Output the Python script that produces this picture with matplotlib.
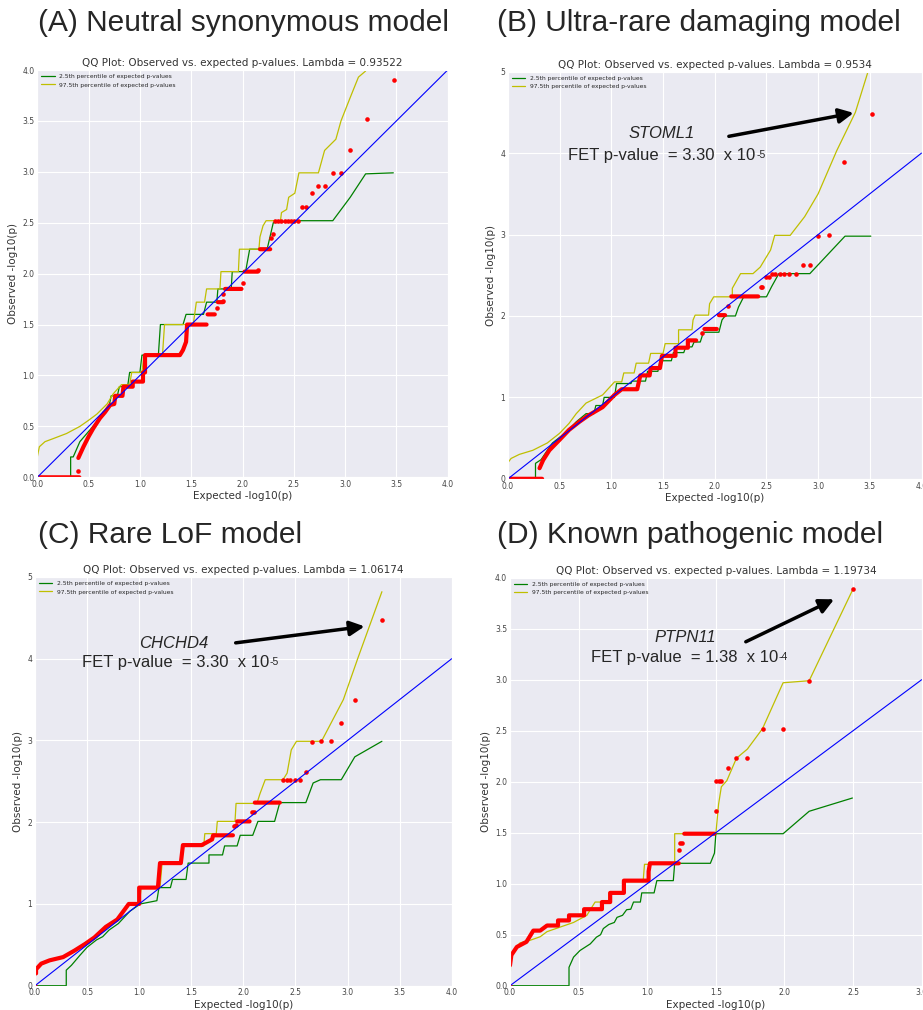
import numpy as np
import matplotlib.pyplot as plt
import seaborn as sns

sns.set_style("darkgrid")
plt.rcParams['font.family'] = ['DejaVu Sans']

W, H = 923, 1010
nan = np.nan

# ---------------- (A) Neutral synonymous model ----------------
a_lambda = "0.93522"
a_green_x = [0, 0.325, 0.325, 0.35, 0.415, 0.50, 0.58, 0.64, 0.70, 0.72, 0.78, 0.80, 0.88, 0.90, 1.00, 1.02,
             1.18, 1.20, 1.42, 1.45, 1.62, 1.65, 1.75, 1.76, 1.89, 1.90, 2.03, 2.07, 2.24, 2.30, 2.52, 2.58,
             2.62, 2.88, 3.05, 3.20, 3.47]
a_green_y = [0, 0, 0.20, 0.20, 0.35, 0.45, 0.545, 0.64, 0.70, 0.80, 0.80, 0.89, 0.89, 1.03, 1.03, 1.20,
             1.20, 1.50, 1.50, 1.60, 1.60, 1.72, 1.72, 1.85, 1.85, 2.02, 2.02, 2.24, 2.24, 2.50, 2.52,
             2.52, 2.52, 2.52, 2.75, 2.98, 2.99]
a_yellow_x = [0, 0, 0.02, 0.075, 0.155, 0.285, 0.415, 0.50, 0.58, 0.68, 0.74, 0.82, 0.90, 0.92, 1.02, 1.04,
              1.22, 1.24, 1.52, 1.55, 1.63, 1.65, 1.78, 1.79, 1.96, 1.97, 2.16, 2.17, 2.20, 2.23, 2.37, 2.38,
              2.43, 2.45, 2.51, 2.55, 2.74, 2.80, 2.91, 2.96, 3.05, 3.13, 3.20]
a_yellow_y = [0, 0.20, 0.30, 0.35, 0.38, 0.43, 0.50, 0.56, 0.62, 0.72, 0.82, 0.91, 0.91, 1.03, 1.03, 1.20,
              1.20, 1.50, 1.50, 1.72, 1.72, 1.85, 1.85, 2.02, 2.02, 2.24, 2.24, 2.36, 2.47, 2.52, 2.52, 2.60,
              2.63, 2.75, 2.79, 2.99, 2.99, 3.21, 3.32, 3.50, 3.73, 3.93, 3.99]
a_red_x = [0, 0.41, nan,
           0.40, 0.45, 0.50, 0.545, 0.61, 0.66, 0.71, 0.75, 0.76, 0.83, 0.84, 0.93, 0.93, 1.03, 1.03, 1.05,
           1.05, 1.39, 1.42, 1.45, 1.46, 1.65, nan, 1.66, 1.73, nan, 1.76, 1.81, nan, 1.83, 1.99, nan,
           2.02, 2.15, nan, 2.17, 2.27]
a_red_y = [0, 0, nan,
           0.19, 0.30, 0.40, 0.48, 0.58, 0.64, 0.71, 0.72, 0.80, 0.80, 0.89, 0.89, 0.94, 0.94, 1.03, 1.03,
           1.20, 1.20, 1.25, 1.33, 1.50, 1.50, nan, 1.60, 1.60, nan, 1.72, 1.72, nan, 1.85, 1.85, nan,
           2.02, 2.02, nan, 2.24, 2.24]
a_dot_x = [0.40, 1.75, 1.81, 1.81, 2.00, 2.155, 2.28, 2.30, 2.32, 2.35, 2.38, 2.41, 2.44, 2.47, 2.50, 2.54,
           2.58, 2.62, 2.68, 2.74, 2.80, 2.88, 2.96, 3.05, 3.21, 3.48]
a_dot_y = [0.065, 1.66, 1.73, 1.80, 1.91, 2.04, 2.35, 2.39, 2.52, 2.52, 2.52, 2.52, 2.52, 2.52, 2.52, 2.52,
           2.65, 2.65, 2.79, 2.86, 2.86, 2.99, 2.99, 3.21, 3.52, 3.90]

# ---------------- (B) Ultra-rare damaging model ----------------
b_lambda = "0.9534"
b_green_x = [0, 0.266, 0.266, 0.32, 0.37, 0.43, 0.53, 0.60, 0.66, 0.755, 0.83, 0.85, 0.915, 0.93, 1.03, 1.05,
             1.19, 1.20, 1.33, 1.35, 1.45, 1.47, 1.58, 1.60, 1.70, 1.72, 1.78, 1.80, 1.86, 1.89, 2.04, 2.07,
             2.10, 2.20, 2.23, 2.28, 2.50, 2.55, 2.62, 2.92, 3.26, 3.51]
b_green_y = [0, 0, 0.19, 0.235, 0.33, 0.44, 0.54, 0.62, 0.70, 0.80, 0.80, 0.90, 0.90, 1.00, 1.00, 1.17,
             1.17, 1.20, 1.20, 1.32, 1.32, 1.45, 1.45, 1.55, 1.55, 1.62, 1.62, 1.68, 1.68, 1.80, 1.80, 1.95,
             2.00, 2.00, 2.11, 2.235, 2.235, 2.36, 2.52, 2.52, 2.98, 2.98]
b_yellow_x = [0, 0, 0.03, 0.11, 0.24, 0.38, 0.50, 0.59, 0.66, 0.755, 0.915, 1.03, 1.10, 1.12, 1.22, 1.24,
              1.36, 1.38, 1.50, 1.52, 1.65, 1.65, 1.78, 1.79, 1.81, 1.94, 1.95, 1.99, 2.17, 2.17, 2.25, 2.37,
              2.44, 2.54, 2.58, 2.73, 2.87, 3.00, 3.18, 3.36, 3.48]
b_yellow_y = [0, 0.20, 0.25, 0.30, 0.35, 0.44, 0.56, 0.68, 0.80, 0.93, 1.03, 1.19, 1.19, 1.30, 1.30, 1.42,
              1.42, 1.54, 1.54, 1.66, 1.66, 1.83, 1.83, 1.95, 2.01, 2.01, 2.15, 2.235, 2.235, 2.34, 2.52, 2.52,
              2.60, 2.81, 2.99, 2.99, 3.22, 3.50, 4.03, 4.50, 4.99]
b_red_x = [0, 0.33, nan,
           0.305, 0.34, 0.40, 0.50, 0.59, 0.69, 0.78, 0.915, 1.03, 1.10, 1.25, 1.28, 1.37, 1.38, 1.47,
           1.49, 1.62, 1.62, 1.74, 1.74, 1.82, nan, 1.90, 2.02, nan, 2.04, 2.10, nan, 2.16, 2.42]
b_red_y = [0, 0, nan,
           0.13, 0.23, 0.35, 0.48, 0.60, 0.70, 0.78, 0.88, 1.03, 1.10, 1.10, 1.27, 1.27, 1.36, 1.36,
           1.51, 1.51, 1.61, 1.61, 1.70, 1.70, nan, 1.84, 1.84, nan, 2.01, 2.01, nan, 2.24, 2.24]
b_dot_x = [1.88, 2.13, 2.45, 2.46, 2.50, 2.52, 2.55, 2.58, 2.63, 2.67, 2.72, 2.79, 2.85, 2.92, 3.00, 3.11,
           3.25, 3.52]
b_dot_y = [1.79, 2.12, 2.35, 2.35, 2.48, 2.48, 2.52, 2.52, 2.52, 2.52, 2.52, 2.52, 2.62, 2.62, 2.98, 2.99,
           3.89, 4.48]

# ---------------- (C) Rare LoF model ----------------
c_lambda = "1.06174"
c_green_x = [0, 0.30, 0.30, 0.35, 0.43, 0.50, 0.59, 0.65, 0.71, 0.80, 0.91, 1.01, 1.17, 1.19, 1.30, 1.32,
             1.45, 1.47, 1.58, 1.67, 1.67, 1.70, 1.80, 1.82, 1.94, 1.97, 2.09, 2.14, 2.30, 2.35, 2.60, 2.67,
             2.74, 2.94, 3.07, 3.33]
c_green_y = [0, 0, 0.19, 0.25, 0.37, 0.47, 0.56, 0.60, 0.68, 0.76, 0.91, 1.00, 1.04, 1.20, 1.20, 1.30,
             1.30, 1.50, 1.50, 1.50, 1.60, 1.60, 1.60, 1.71, 1.71, 1.84, 1.84, 2.01, 2.01, 2.24, 2.24, 2.48,
             2.52, 2.52, 2.80, 2.99]
c_yellow_x = [0, 0, 0.03, 0.11, 0.22, 0.34, 0.46, 0.59, 0.72, 0.81, 0.90, 1.00, 1.02, 1.20, 1.22, 1.40,
              1.42, 1.62, 1.63, 1.64, 1.74, 1.75, 1.76, 1.92, 1.93, 1.96, 2.13, 2.16, 2.21, 2.38, 2.42, 2.46,
              2.51, 2.75, 2.96, 3.10, 3.33]
c_yellow_y = [0, 0.20, 0.25, 0.29, 0.33, 0.39, 0.49, 0.59, 0.74, 0.84, 1.00, 1.00, 1.20, 1.20, 1.50, 1.50,
              1.71, 1.71, 1.86, 1.86, 1.86, 2.01, 2.01, 2.01, 2.23, 2.23, 2.23, 2.35, 2.52, 2.52, 2.60, 2.885,
              2.99, 2.99, 3.50, 4.01, 4.82]
c_red_x = [0.01, 0.01, 0.06, 0.14, 0.27, 0.38, 0.48, 0.57, 0.68, 0.79, 0.90, 1.00, 1.00, 1.18, 1.20, 1.40,
           1.42, 1.58, 1.60, 1.70, 1.71, 1.90, nan, 1.94, 2.06, nan, 2.11, 2.35]
c_red_y = [0.15, 0.20, 0.27, 0.31, 0.35, 0.43, 0.51, 0.59, 0.72, 0.81, 1.00, 1.00, 1.20, 1.20, 1.50, 1.50,
           1.72, 1.72, 1.72, 1.79, 1.84, 1.84, nan, 2.01, 2.01, nan, 2.24, 2.24]
c_dot_x = [0.0, 1.91, 1.93, 2.08, 2.10, 2.38, 2.42, 2.45, 2.50, 2.54, 2.60, 2.66, 2.75, 2.84, 2.94, 3.07,
           3.33]
c_dot_y = [0.0, 1.95, 1.97, 2.13, 2.13, 2.52, 2.52, 2.52, 2.52, 2.52, 2.62, 2.98, 2.99, 2.99, 3.21, 3.50,
           4.48]

# ---------------- (D) Known pathogenic model ----------------
d_lambda = "1.19734"
d_green_x = [0, 0.43, 0.43, 0.463, 0.51, 0.585, 0.63, 0.66, 0.68, 0.72, 0.76, 0.78, 0.82, 0.85, 0.88, 0.90,
             0.95, 0.96, 1.05, 1.07, 1.19, 1.20, 1.46, 1.49, 1.50, 1.99, 2.18, 2.495]
d_green_y = [0, 0, 0.18, 0.28, 0.345, 0.41, 0.476, 0.50, 0.56, 0.60, 0.62, 0.67, 0.69, 0.745, 0.75, 0.82,
             0.82, 0.91, 0.91, 1.03, 1.03, 1.20, 1.20, 1.30, 1.49, 1.49, 1.71, 1.84]
d_yellow_x = [0, 0.005, 0.025, 0.073, 0.146, 0.22, 0.27, 0.366, 0.463, 0.56, 0.62, 0.72, 0.72, 0.83, 0.83,
              0.97, 0.98, 1.20, 1.20, 1.50, 1.52, 1.54, 1.58, 1.65, 1.73, 1.84, 1.99, 2.18, 2.50]
d_yellow_y = [0, 0.25, 0.345, 0.42, 0.445, 0.48, 0.53, 0.575, 0.62, 0.69, 0.82, 0.82, 0.91, 0.91, 1.02,
              1.02, 1.19, 1.19, 1.49, 1.49, 1.78, 1.95, 2.01, 2.23, 2.32, 2.52, 2.97, 2.99, 3.89]
d_red_x = [0.0, 0.01, 0.05, 0.12, 0.17, 0.22, 0.27, 0.35, 0.35, 0.43, 0.43, 0.54, 0.54, 0.67, 0.67, 0.73,
           0.73, 0.83, 0.83, 1.01, 1.01, 1.02, 1.23, nan, 1.27, 1.49]
d_red_y = [0.20, 0.30, 0.38, 0.43, 0.54, 0.54, 0.59, 0.59, 0.64, 0.64, 0.69, 0.69, 0.75, 0.75, 0.82, 0.82,
           0.91, 0.91, 1.03, 1.03, 1.12, 1.20, 1.20, nan, 1.49, 1.49]
d_dot_x = [0.0, 1.23, 1.24, 1.25, 1.50, 1.50, 1.52, 1.54, 1.585, 1.65, 1.73, 1.84, 1.99, 2.18, 2.50]
d_dot_y = [0.0, 1.33, 1.40, 1.40, 1.71, 2.01, 2.01, 2.01, 2.13, 2.23, 2.23, 2.52, 2.52, 2.99, 3.89]

legend_labels = ["2.5th percentile of expected p-values", "97.5th percentile of expected p-values"]


def add_ax(fig, left, top, right, bottom):
    return fig.add_axes([left / W, 1 - bottom / H, (right - left) / W, (bottom - top) / H])


def qq_panel(ax, lam, xmax, ymax, gx, gy, yx, yy, rx, ry, dx, dy, xstep, ystep, yfmt):
    ax.plot(gx, gy, color='g', lw=0.9, label=legend_labels[0])
    ax.plot(yx, yy, color='y', lw=0.9, label=legend_labels[1])
    ax.plot(rx, ry, color='r', lw=3.0, solid_capstyle='round', solid_joinstyle='round')
    ax.plot(dx, dy, 'o', color='r', ms=3.3, mew=0)
    ax.plot([0, min(xmax, ymax)], [0, min(xmax, ymax)], color='b', lw=0.8)
    ax.set_xlim(0, xmax)
    ax.set_ylim(0, ymax)
    ax.set_xticks(np.arange(0, xmax + 0.01, xstep))
    ax.set_yticks(np.arange(0, ymax + 0.01, ystep))
    ax.xaxis.set_major_formatter(plt.FormatStrFormatter('%.1f'))
    ax.yaxis.set_major_formatter(plt.FormatStrFormatter(yfmt))
    ax.tick_params(labelsize=5.5, labelcolor='#444444', length=0, pad=2)
    ax.set_title("QQ Plot: Observed vs. expected p-values. Lambda = " + lam, fontsize=7.5, pad=3,
                 color='#333333')
    ax.set_xlabel("Expected -log10(p)", fontsize=7.5, labelpad=1.5, color='#333333')
    ax.set_ylabel("Observed -log10(p)", fontsize=7.5, labelpad=3, color='#333333')
    ax.legend(loc='upper left', fontsize=4.3, frameon=False, handlelength=2.2, borderaxespad=0.3,
              labelspacing=0.5)


def annotate(ax, gene, pval, sup, gx, gy, fx, fy, tail, tip):
    ax.text(gx, gy, gene, fontsize=12, style='italic', family='Liberation Sans', ha='center', va='center')
    t = ax.text(fx, fy, pval, fontsize=12, family='Liberation Sans', ha='center', va='center')
    ax.annotate(sup, xy=(1, 1), xycoords=t, xytext=(0.3, -1.5), textcoords='offset points',
                fontsize=7.5, family='Liberation Sans', ha='left', va='top')
    ax.annotate('', xy=tip, xytext=tail,
                arrowprops=dict(arrowstyle='-|>', color='k', lw=2.5, mutation_scale=22))


fig = plt.figure(figsize=(W / 100, H / 100), dpi=100)

axA = add_ax(fig, 37.3, 70, 447.7, 477.3)
qq_panel(axA, a_lambda, 4.0, 4.0, a_green_x, a_green_y, a_yellow_x, a_yellow_y, a_red_x, a_red_y,
         a_dot_x, a_dot_y, 0.5, 0.5, '%.1f')

axB = add_ax(fig, 508, 71.7, 921.5, 478.8)
qq_panel(axB, b_lambda, 4.0, 5.0, b_green_x, b_green_y, b_yellow_x, b_yellow_y, b_red_x, b_red_y,
         b_dot_x, b_dot_y, 0.5, 1.0, '%d')
annotate(axB, "STOML1", "FET p-value  = 3.30  x 10", "-5", 1.49, 4.24, 1.49, 3.97, (2.11, 4.20), (3.37, 4.50))

axC = add_ax(fig, 35, 577, 451.7, 985.7)
qq_panel(axC, c_lambda, 4.0, 5.0, c_green_x, c_green_y, c_yellow_x, c_yellow_y, c_red_x, c_red_y,
         c_dot_x, c_dot_y, 0.5, 1.0, '%d')
annotate(axC, "CHCHD4", "FET p-value  = 3.30  x 10", "-5", 1.33, 4.19, 1.35, 3.96, (1.90, 4.19), (3.19, 4.40))

axD = add_ax(fig, 510, 577.7, 921.7, 985.7)
qq_panel(axD, d_lambda, 3.0, 4.0, d_green_x, d_green_y, d_yellow_x, d_yellow_y, d_red_x, d_red_y,
         d_dot_x, d_dot_y, 0.5, 0.5, '%.1f')
annotate(axD, "PTPN11", "FET p-value  = 1.38  x 10", "-4", 1.28, 3.41, 1.27, 3.22, (1.70, 3.36), (2.38, 3.80))

panel_titles = ["(A) Neutral synonymous model", "(B) Ultra-rare damaging model",
                "(C) Rare LoF model", "(D) Known pathogenic model"]
title_pos = [(38, 23), (497, 23), (38, 535), (497, 535)]
for t, (px, py) in zip(panel_titles, title_pos):
    fig.text(px / W, 1 - py / H, t, fontsize=21.5, family='Liberation Sans', ha='left', va='center')

fig.savefig("out.png", dpi=100)
